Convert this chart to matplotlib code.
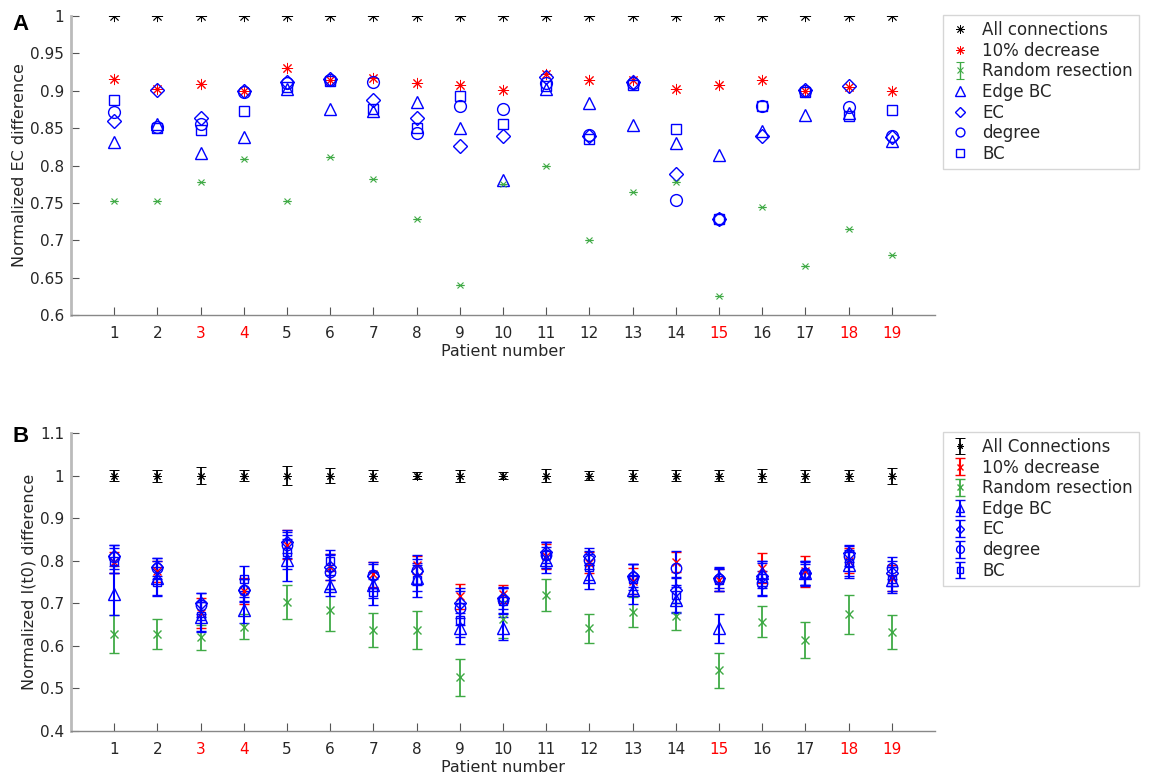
import matplotlib.pyplot as plt
import numpy as np

# patient numbers and which ones are labelled in red
patients = list(range(1, 20))
red_patients = [3, 4, 15, 18, 19]

# ---- panel A : normalized EC difference ----
all_a = [1.0] * 19
dec_a = [0.916, 0.902, 0.909, 0.900, 0.930, 0.915, 0.917, 0.911, 0.908, 0.901,
         0.922, 0.914, 0.914, 0.902, 0.908, 0.914, 0.900, 0.905, 0.900]
rand_a = [0.752, 0.753, 0.778, 0.809, 0.753, 0.812, 0.782, 0.729, 0.640, 0.775,
          0.800, 0.701, 0.765, 0.778, 0.626, 0.745, 0.666, 0.715, 0.680]
rand_a_err = [0.0] * 19
edge_a = [0.831, 0.855, 0.817, 0.838, 0.903, 0.876, 0.873, 0.885, 0.850, 0.781,
          0.903, 0.883, 0.854, 0.830, 0.814, 0.846, 0.867, 0.870, 0.833]
ec_a = [0.859, 0.901, 0.863, 0.900, 0.912, 0.916, 0.888, 0.863, 0.826, 0.839,
        0.919, 0.840, 0.912, 0.788, 0.728, 0.839, 0.901, 0.906, 0.838]
deg_a = [0.871, 0.852, 0.856, 0.899, 0.910, 0.915, 0.912, 0.844, 0.879, 0.876,
         0.910, 0.841, 0.910, 0.754, 0.729, 0.879, 0.900, 0.878, 0.839]
bc_a = [0.888, 0.850, 0.847, 0.873, 0.905, 0.913, 0.875, 0.850, 0.893, 0.856,
        0.907, 0.836, 0.908, 0.849, 0.728, 0.879, 0.899, 0.866, 0.874]

# ---- panel B : normalized I(t0) difference (mean, error) ----
all_b = [1.0] * 19
all_b_err = [0.0125, 0.014, 0.02, 0.0125, 0.022, 0.017, 0.0125, 0.009, 0.014, 0.008,
             0.016, 0.011, 0.012, 0.012, 0.012, 0.015, 0.014, 0.012, 0.019]
dec_b = [0.796, 0.775, 0.678, 0.729, 0.838, 0.785, 0.768, 0.790, 0.716, 0.722,
         0.810, 0.795, 0.752, 0.797, 0.755, 0.783, 0.775, 0.800, 0.760]
dec_b_err = [0.025, 0.025, 0.035, 0.03, 0.034, 0.03, 0.029, 0.021, 0.029, 0.021,
             0.03, 0.025, 0.03, 0.024, 0.025, 0.035, 0.036, 0.03, 0.03]
rand_b = [0.628, 0.627, 0.620, 0.645, 0.704, 0.684, 0.637, 0.638, 0.526, 0.662,
          0.720, 0.641, 0.680, 0.669, 0.543, 0.657, 0.614, 0.674, 0.633]
rand_b_err = [0.045, 0.035, 0.03, 0.03, 0.04, 0.05, 0.04, 0.045, 0.043, 0.043,
              0.037, 0.035, 0.035, 0.032, 0.041, 0.036, 0.043, 0.045, 0.04]
edge_b = [0.722, 0.760, 0.668, 0.684, 0.802, 0.741, 0.743, 0.760, 0.641, 0.641,
          0.802, 0.761, 0.731, 0.708, 0.641, 0.770, 0.770, 0.790, 0.755]
edge_b_err = [0.05, 0.04, 0.035, 0.03, 0.05, 0.025, 0.03, 0.03, 0.037, 0.027,
              0.03, 0.028, 0.033, 0.03, 0.035, 0.03, 0.03, 0.03, 0.03]
ec_b = [0.812, 0.785, 0.700, 0.731, 0.845, 0.785, 0.765, 0.775, 0.700, 0.712,
        0.820, 0.810, 0.765, 0.731, 0.760, 0.765, 0.772, 0.818, 0.770]
ec_b_err = [0.025, 0.022, 0.025, 0.025, 0.027, 0.03, 0.028, 0.03, 0.035, 0.025,
            0.025, 0.02, 0.027, 0.03, 0.025, 0.03, 0.028, 0.02, 0.03]
deg_b = [0.809, 0.782, 0.696, 0.731, 0.837, 0.774, 0.766, 0.778, 0.690, 0.708,
         0.813, 0.802, 0.762, 0.784, 0.756, 0.747, 0.770, 0.811, 0.782]
deg_b_err = [0.028, 0.025, 0.028, 0.027, 0.03, 0.04, 0.03, 0.035, 0.04, 0.03,
             0.03, 0.022, 0.03, 0.04, 0.028, 0.03, 0.028, 0.024, 0.026]
bc_b = [0.800, 0.751, 0.669, 0.758, 0.821, 0.800, 0.727, 0.755, 0.661, 0.705,
        0.813, 0.785, 0.757, 0.720, 0.755, 0.760, 0.768, 0.795, 0.757]
bc_b_err = [0.03, 0.035, 0.035, 0.03, 0.04, 0.025, 0.03, 0.04, 0.04, 0.03,
            0.03, 0.03, 0.035, 0.04, 0.025, 0.04, 0.025, 0.03, 0.028]

a_ticks = [0.6, 0.65, 0.7, 0.75, 0.8, 0.85, 0.9, 0.95, 1.0]
a_ticklabels = ["0.6", "0.65", "0.7", "0.75", "0.8", "0.85", "0.9", "0.95", "1"]
b_ticks = [0.4, 0.5, 0.6, 0.7, 0.8, 0.9, 1.0, 1.1]
b_ticklabels = ["0.4", "0.5", "0.6", "0.7", "0.8", "0.9", "1", "1.1"]

BLUE = "#0000ff"
RED = "#ff0000"
GREEN = "#3faa45"
TXT = "#262626"
ast = (8, 2, 0)  # asterisk like matlab '*'

plt.rcParams["font.family"] = ["DejaVu Sans"]
fig = plt.figure(figsize=(11.52, 7.77), dpi=100)
axA = fig.add_axes([0.0616, 0.5946, 0.75, 0.3848])
axB = fig.add_axes([0.0616, 0.0592, 0.75, 0.3835])


def style_axis(ax, ticks, ticklabels, ymin, ymax, ylabel):
    ax.set_xlim(0, 20)
    ax.set_ylim(ymin, ymax)
    ax.set_xticks(patients)
    ax.set_xticklabels([str(p) for p in patients])
    ax.set_yticks(ticks)
    ax.set_yticklabels(ticklabels)
    for lab in ax.get_xticklabels():
        if int(lab.get_text()) in red_patients:
            lab.set_color(RED)
        else:
            lab.set_color(TXT)
    for lab in ax.get_yticklabels():
        lab.set_color(TXT)
    ax.tick_params(direction="in", length=6, width=0.8, color="#555555",
                   labelsize=11)
    ax.tick_params(axis="x", pad=8)
    ax.tick_params(axis="y", pad=5)
    ax.spines["top"].set_visible(False)
    ax.spines["right"].set_visible(False)
    ax.spines["left"].set_color("#bbbbbb")
    ax.spines["left"].set_linewidth(2)
    ax.spines["bottom"].set_color("#888888")
    ax.spines["bottom"].set_linewidth(1)
    ax.set_xlabel("Patient number", fontsize=11.5, color=TXT, labelpad=2)
    ax.set_ylabel(ylabel, fontsize=11.5, color=TXT, labelpad=2)


# panel A
hA = []
hA.append(axA.plot(patients, all_a, linestyle="none", marker=ast, ms=8, mew=0.6,
                   color="black", label="All connections")[0])
hA.append(axA.plot(patients, dec_a, linestyle="none", marker=ast, ms=8, mew=0.7,
                   color=RED, label="10% decrease")[0])
hA.append(axA.errorbar(patients, rand_a, yerr=rand_a_err, fmt="x", ms=5, mew=0.8,
                       color=GREEN, ecolor=GREEN, elinewidth=1, capsize=3,
                       label="Random resection"))
hA.append(axA.plot(patients, edge_a, linestyle="none", marker="^", ms=9, mew=1,
                   mfc="none", color=BLUE, label="Edge BC")[0])
hA.append(axA.plot(patients, ec_a, linestyle="none", marker="D", ms=7, mew=1,
                   mfc="none", color=BLUE, label="EC")[0])
hA.append(axA.plot(patients, deg_a, linestyle="none", marker="o", ms=8.5, mew=1,
                   mfc="none", color=BLUE, label="degree")[0])
hA.append(axA.plot(patients, bc_a, linestyle="none", marker="s", ms=7, mew=1,
                   mfc="none", color=BLUE, label="BC")[0])
style_axis(axA, a_ticks, a_ticklabels, 0.6, 1.0, "Normalized EC difference")

# panel B
ebkw = dict(linestyle="none", capsize=3.5, mfc="none")
hB = []
hB.append(axB.errorbar(patients, all_b, yerr=all_b_err, marker=ast, ms=6, mew=0.7,
                       color="black", elinewidth=1.3, capthick=1.3,
                       label="All Connections", **ebkw))
hB.append(axB.errorbar(patients, dec_b, yerr=dec_b_err, marker="x", ms=6, mew=1,
                       color=RED, elinewidth=1.5, capthick=1.5,
                       label="10% decrease", **ebkw))
hB.append(axB.errorbar(patients, rand_b, yerr=rand_b_err, marker="x", ms=6, mew=1,
                       color=GREEN, elinewidth=1.3, capthick=1.3,
                       label="Random resection", **ebkw))
hB.append(axB.errorbar(patients, edge_b, yerr=edge_b_err, marker="^", ms=8, mew=1,
                       color=BLUE, elinewidth=1.5, capthick=1.5,
                       label="Edge BC", **ebkw))
hB.append(axB.errorbar(patients, ec_b, yerr=ec_b_err, marker="D", ms=6, mew=1,
                       color=BLUE, elinewidth=1.5, capthick=1.5,
                       label="EC", **ebkw))
hB.append(axB.errorbar(patients, deg_b, yerr=deg_b_err, marker="o", ms=7.5, mew=1,
                       color=BLUE, elinewidth=1.5, capthick=1.5,
                       label="degree", **ebkw))
hB.append(axB.errorbar(patients, bc_b, yerr=bc_b_err, marker="s", ms=6, mew=1,
                       color=BLUE, elinewidth=1.5, capthick=1.5,
                       label="BC", **ebkw))
style_axis(axB, b_ticks, b_ticklabels, 0.4, 1.1, "Normalized I(t0) difference")

# legends on the right
for ax, hs, top in [(axA, hA, 1 - 15 / 777), (axB, hB, 1 - 432 / 777)]:
    leg = ax.legend(handles=hs, loc="upper left",
                    bbox_to_anchor=(943 / 1152, top),
                    bbox_transform=fig.transFigure, borderaxespad=0,
                    fontsize=12, frameon=True, fancybox=False,
                    handlelength=1.3, handletextpad=0.7, labelspacing=0.16,
                    borderpad=0.35, markerscale=0.75)
    leg.get_frame().set_edgecolor("#cccccc")
    leg.get_frame().set_linewidth(1)
    for t in leg.get_texts():
        t.set_color(TXT)

fig.text(12 / 1152, 1 - 24 / 777, "A", fontsize=16, fontweight="bold",
         va="center", family=["Liberation Sans", "DejaVu Sans"])
fig.text(12 / 1152, 1 - 437 / 777, "B", fontsize=16, fontweight="bold",
         va="center", family=["Liberation Sans", "DejaVu Sans"])

fig.savefig("out.png", dpi=100)
